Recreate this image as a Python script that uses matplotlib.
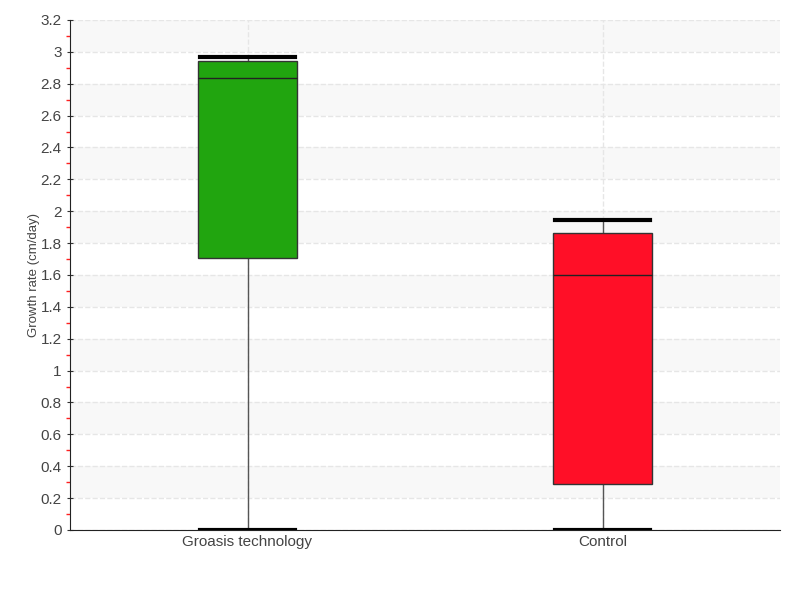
import matplotlib
matplotlib.use("Agg")
import matplotlib.pyplot as plt
from matplotlib.ticker import MultipleLocator

# Box values
labels = ["Groasis technology", "Control"]
lows = [0.0, 0.0]
q1s = [1.706, 0.289]
medians = [2.835, 1.60]
q3s = [2.94, 1.863]
highs = [2.967, 1.945]
colors = ["#21a50f", "#ff0f27"]

plt.rcParams['font.family'] = ['Liberation Sans', 'DejaVu Sans']

fig = plt.figure(figsize=(8, 6), dpi=100)
ax = fig.add_axes([0.0875, 0.1167, 0.8875, 0.85])

# alternating grey bands
for i in range(16):
    lo = i * 0.2
    if i % 2 == 1:
        ax.axhspan(lo, lo + 0.2, color="#f8f8f8", zorder=0, lw=0)

stats = []
for i in range(len(labels)):
    stats.append({"label": labels[i], "whislo": lows[i], "q1": q1s[i],
                  "med": medians[i], "q3": q3s[i], "whishi": highs[i]})

bp = ax.bxp(stats, positions=[1, 2], widths=0.28, patch_artist=True,
            showfliers=False,
            boxprops=dict(edgecolor="#333333", linewidth=1),
            medianprops=dict(color="#222222", linewidth=1, zorder=4),
            whiskerprops=dict(color="#555555", linewidth=1),
            capprops=dict(color="black", linewidth=3), capwidths=0.27)
for patch, c in zip(bp["boxes"], colors):
    patch.set_facecolor(c)
    patch.set_zorder(3)

ax.set_xlim(0.5, 2.5)
ax.set_ylim(0, 3.2)
ax.yaxis.set_minor_locator(MultipleLocator(0.1))
ax.set_yticks([0, 0.2, 0.4, 0.6, 0.8, 1, 1.2, 1.4, 1.6, 1.8, 2, 2.2, 2.4, 2.6, 2.8, 3, 3.2])
ax.set_yticklabels(["0", "0.2", "0.4", "0.6", "0.8", "1", "1.2", "1.4", "1.6", "1.8",
                    "2", "2.2", "2.4", "2.6", "2.8", "3", "3.2"])
ax.tick_params(axis="y", which="major", length=5, direction="inout", color="#333333",
               labelsize=11, labelcolor="#444444")
ax.tick_params(axis="y", which="minor", length=3, width=1, direction="out", color="#ff2020")
ax.tick_params(axis="x", length=0, labelsize=11, labelcolor="#444444")

ax.grid(axis="y", which="major", color="#e6e6e6", linestyle="--", linewidth=1, zorder=1)
ax.grid(axis="x", color="#e6e6e6", linestyle="--", linewidth=1, zorder=1)
ax.set_axisbelow(True)

for s in ["top", "right"]:
    ax.spines[s].set_visible(False)
ax.spines["left"].set_color("#222222")
ax.spines["bottom"].set_color("#222222")

ax.set_ylabel("Growth rate (cm/day)", fontsize=9.5, color="#444444")
ax.yaxis.set_label_coords(-0.042, 0.5)

plt.savefig("out.png")
